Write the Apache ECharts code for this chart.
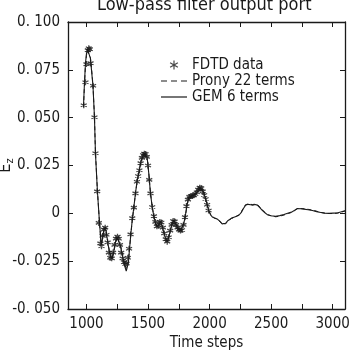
<!DOCTYPE html>
<html>
<head>
<meta charset="utf-8">
<script src="https://cdn.jsdelivr.net/npm/echarts@6/dist/echarts.min.js"></script>
<style>
  html, body { margin: 0; padding: 0; background: #fff; }
  #chart { width: 349px; height: 350px; }
</style>
</head>
<body>
<div id="chart"></div>
<script>
// time steps for the fitted curves
const gemSteps = [
  976, 984, 992, 1000, 1008, 1016, 1024, 1032, 1040, 1053, 1065, 1073, 1089, 1106, 1120, 1130,
  1140, 1154, 1166, 1179, 1195, 1209, 1222, 1236, 1250, 1263, 1278, 1293, 1310, 1323, 1331, 1340,
  1350, 1360, 1372, 1385, 1398, 1412, 1425, 1439, 1455, 1470, 1482, 1493, 1506, 1520, 1534, 1548,
  1562, 1575, 1588, 1602, 1615, 1628, 1642, 1656, 1670, 1683, 1697, 1710, 1724, 1737, 1750, 1764,
  1778, 1792, 1805, 1818, 1832, 1852, 1872, 1890, 1905, 1920, 1932, 1945, 1957, 1967, 1980, 1994,
  2008, 2022, 2040, 2063, 2085, 2102, 2116, 2130, 2145, 2157, 2178, 2198, 2220, 2238, 2258, 2275,
  2293, 2313, 2333, 2350, 2370, 2388, 2408, 2428, 2450, 2469, 2500, 2537, 2570, 2604, 2640, 2672,
  2695, 2713, 2740, 2767, 2800, 2835, 2870, 2903, 2935, 2970, 3005, 3038, 3070, 3100
];
// GEM 6 terms
const gemValues = [
  0.0565, 0.0685, 0.0785, 0.0835, 0.0858, 0.0868, 0.0855, 0.081, 0.0755, 0.0664, 0.0502, 0.0314, 0.0115, -0.005, -0.0167, -0.0135,
  -0.009, -0.0072, -0.012, -0.0175, -0.0225, -0.0237, -0.02, -0.015, -0.0125, -0.0128, -0.0175, -0.0225, -0.0275, -0.0302, -0.0307, -0.026,
  -0.0185, -0.011, -0.0035, 0.0033, 0.0104, 0.0173, 0.021, 0.026, 0.0295, 0.0312, 0.0308, 0.0292, 0.021, 0.0104, 0.0033, -0.0018,
  -0.0055, -0.0072, -0.006, -0.0042, -0.0068, -0.0098, -0.0132, -0.015, -0.012, -0.0085, -0.005, -0.0037, -0.0055, -0.0072, -0.0082, -0.0092,
  -0.0088, -0.005, -0.0005, 0.005, 0.0083, 0.009, 0.0094, 0.0103, 0.0118, 0.0133, 0.0135, 0.0118, 0.0098, 0.0078, 0.0045, 0.0012,
  -0.0008, -0.0019, -0.0025, -0.003, -0.0042, -0.0055, -0.006, -0.0052, -0.004, -0.0033, -0.0025, -0.002, -0.0015, -0.001, 0.0005, 0.0025,
  0.0043, 0.0047, 0.0045, 0.0043, 0.0046, 0.0043, 0.003, 0.0016, 0.0003, -0.0007, -0.0013, -0.0016, -0.0012, -0.0006, 0.0002, 0.0008,
  0.0018, 0.0025, 0.0024, 0.0022, 0.0019, 0.0015, 0.0009, 0.0004, 0.0001, 0, 0.0001, 0.0002, 0.0008, 0.0014
];
// Prony 22 terms (same steps)
const pronyValues = [
  0.0555, 0.0675, 0.0772, 0.0825, 0.085, 0.0858, 0.0852, 0.0815, 0.0765, 0.067, 0.0505, 0.032, 0.0118, -0.0048, -0.0162, -0.013,
  -0.0088, -0.0075, -0.0122, -0.0172, -0.022, -0.0233, -0.0198, -0.015, -0.0127, -0.013, -0.0172, -0.022, -0.0265, -0.0288, -0.0292, -0.0255,
  -0.0185, -0.0112, -0.0037, 0.0032, 0.0102, 0.017, 0.0212, 0.026, 0.0293, 0.031, 0.0308, 0.029, 0.0212, 0.0106, 0.0035, -0.0016,
  -0.0053, -0.007, -0.006, -0.0044, -0.0066, -0.0096, -0.013, -0.0147, -0.0122, -0.0087, -0.0052, -0.0039, -0.0053, -0.007, -0.008, -0.009,
  -0.0088, -0.0052, -0.0008, 0.0047, 0.0082, 0.0091, 0.0095, 0.0104, 0.0118, 0.0131, 0.0133, 0.012, 0.01, 0.008, 0.0048, 0.0015,
  -0.0005, -0.0017, -0.0024, -0.0031, -0.0044, -0.0056, -0.0061, -0.0055, -0.0043, -0.0036, -0.0027, -0.0021, -0.0014, -0.0008, 0.0008, 0.0028,
  0.0045, 0.0049, 0.0047, 0.0046, 0.0048, 0.0046, 0.0033, 0.0018, 0.0004, -0.0006, -0.0013, -0.0018, -0.0015, -0.0009, -0.0001, 0.0006,
  0.0016, 0.0024, 0.0025, 0.0024, 0.0021, 0.0017, 0.0011, 0.0005, 0.0001, -0.0001, -0.0001, 0.0001, 0.0006, 0.0012
];
// FDTD samples
const fdtdSteps = [
  978, 992, 1000, 1011, 1019, 1027, 1033, 1054, 1065, 1073, 1087, 1100, 1113, 1122, 1131, 1142,
  1152, 1162, 1172, 1182, 1193, 1205, 1216, 1228, 1240, 1252, 1262, 1272, 1282, 1294, 1305, 1316,
  1326, 1336, 1346, 1358, 1372, 1385, 1398, 1410, 1420, 1430, 1440, 1450, 1460, 1470, 1480, 1490,
  1500, 1510, 1520, 1534, 1548, 1560, 1572, 1584, 1596, 1608, 1620, 1632, 1644, 1656, 1668, 1680,
  1692, 1704, 1716, 1728, 1740, 1752, 1764, 1776, 1788, 1800, 1812, 1824, 1836, 1848, 1860, 1872,
  1884, 1896, 1908, 1920, 1932, 1944, 1956, 1968, 1980, 1992
];
const fdtdValues = [
  0.0565, 0.0685, 0.078, 0.0853, 0.0863, 0.0858, 0.0785, 0.0667, 0.0502, 0.0314, 0.0115, -0.005, -0.0157, -0.0172, -0.0118, -0.0085,
  -0.0075, -0.0112, -0.0152, -0.0205, -0.0232, -0.0235, -0.0205, -0.0165, -0.0132, -0.0122, -0.0133, -0.0165, -0.0205, -0.0235, -0.0255, -0.0265,
  -0.0262, -0.0232, -0.0185, -0.011, -0.0025, 0.003, 0.0104, 0.0165, 0.0195, 0.0225, 0.0262, 0.029, 0.0305, 0.0312, 0.031, 0.0295,
  0.025, 0.0175, 0.0104, 0.0033, -0.0015, -0.0045, -0.0068, -0.0065, -0.0045, -0.0048, -0.0075, -0.0105, -0.0135, -0.0148, -0.0125, -0.009,
  -0.006, -0.004, -0.0042, -0.006, -0.0075, -0.0085, -0.009, -0.0087, -0.006, -0.002, 0.0038, 0.0072, 0.0086, 0.009, 0.0091, 0.0094,
  0.0101, 0.011, 0.0124, 0.0134, 0.0132, 0.0115, 0.0096, 0.0075, 0.0045, 0.0015
];
const xLabels = [1000, 1500, 2000, 2500, 3000];
const xTicks = [1000, 1250, 1500, 1750, 2000, 2250, 2500, 2750, 3000];

const pair = (xs, ys) => xs.map((x, i) => [x, ys[i]]);
const star = 'path://M5 0L5 10M0.7 2.5L9.3 7.5M9.3 2.5L0.7 7.5';
const dashIcon = 'path://M0 0h6v1.2h-6zM10 0h6v1.2h-6zM20 0h6v1.2h-6z';
const solidIcon = 'path://M0 0h26v1.2h-26z';
const ink = '#1a1a1a';
const font = '"Liberation Sans Narrow", "DejaVu Sans Condensed", sans-serif';

const chart = echarts.init(document.getElementById('chart'));

const xCommon = {
  type: 'value',
  min: 850,
  max: 3100,
  axisLine: { show: true, onZero: false, lineStyle: { color: ink, width: 1.3 } },
  axisTick: { show: true, inside: true, length: 5, customValues: xTicks, lineStyle: { color: ink } },
  splitLine: { show: false }
};
const yCommon = {
  type: 'value',
  min: -0.05,
  max: 0.1,
  interval: 0.025,
  axisLine: { show: true, onZero: false, lineStyle: { color: ink, width: 1.3 } },
  axisTick: { show: true, inside: true, length: 5, lineStyle: { color: ink } },
  splitLine: { show: false }
};

chart.setOption({
  backgroundColor: '#fff',
  animation: false,
  textStyle: { fontFamily: font, color: ink },
  title: {
    text: 'Low-pass filter output port',
    left: 92,
    top: -9,
    textStyle: { fontFamily: font, fontSize: 18, fontWeight: 'normal', color: ink }
  },
  grid: { left: 68, right: 4, top: 22, bottom: 41, outerBoundsMode: 'none', containLabel: false },
  legend: {
    orient: 'vertical',
    left: 156,
    top: 52,
    itemWidth: 26,
    itemHeight: 9,
    itemGap: 0,
    textStyle: { fontFamily: font, fontSize: 15, lineHeight: 16, color: ink },
    data: [
      { name: 'FDTD data', icon: star, itemStyle: { color: 'transparent', borderColor: ink, borderWidth: 1.2 } },
      { name: 'Prony 22 terms', icon: dashIcon, itemStyle: { color: ink, borderWidth: 0 } },
      { name: 'GEM 6 terms', icon: solidIcon, itemStyle: { color: ink, borderWidth: 0 } }
    ]
  },
  xAxis: [
    Object.assign({}, xCommon, {
      position: 'bottom',
      name: 'Time steps',
      nameLocation: 'middle',
      nameGap: 27,
      nameMoveOverlap: false,
      nameTextStyle: { fontFamily: font, fontSize: 15, color: ink },
      axisLabel: {
        customValues: xLabels,
        margin: 8,
        fontFamily: font,
        fontSize: 15,
        color: ink,
        formatter: v => String(v)
      }
    }),
    Object.assign({}, xCommon, {
      position: 'top',
      axisLabel: { show: false }
    })
  ],
  yAxis: [
    Object.assign({}, yCommon, {
      position: 'left',
      name: '{e|E}{s|z}',
      nameLocation: 'middle',
      nameRotate: 90,
      nameGap: 52,
      nameMoveOverlap: false,
      nameTextStyle: {
        rich: {
          e: { fontFamily: font, fontSize: 16, lineHeight: 20, color: ink },
          s: { fontFamily: font, fontSize: 11, lineHeight: 12, color: ink, verticalAlign: 'bottom' }
        }
      },
      axisLabel: {
        margin: 8,
        fontFamily: font,
        fontSize: 15,
        color: ink,
        formatter: v => (Math.abs(v) < 1e-9 ? '0' : v.toFixed(3).replace('.', '. '))
      }
    }),
    Object.assign({}, yCommon, {
      position: 'right',
      axisLabel: { show: false }
    })
  ],
  series: [
    {
      name: 'FDTD data',
      type: 'scatter',
      data: pair(fdtdSteps, fdtdValues),
      symbol: star,
      symbolSize: 6,
      itemStyle: { color: 'transparent', borderColor: ink, borderWidth: 1.3 },
      z: 3
    },
    {
      name: 'Prony 22 terms',
      type: 'line',
      data: pair(gemSteps, pronyValues),
      showSymbol: false,
      symbol: 'none',
      itemStyle: { color: ink },
      lineStyle: { color: ink, width: 1, type: [4, 3] },
      z: 2
    },
    {
      name: 'GEM 6 terms',
      type: 'line',
      data: pair(gemSteps, gemValues),
      showSymbol: false,
      symbol: 'none',
      itemStyle: { color: ink },
      lineStyle: { color: ink, width: 1.1 },
      z: 2
    }
  ]
});
</script>
</body>
</html>
